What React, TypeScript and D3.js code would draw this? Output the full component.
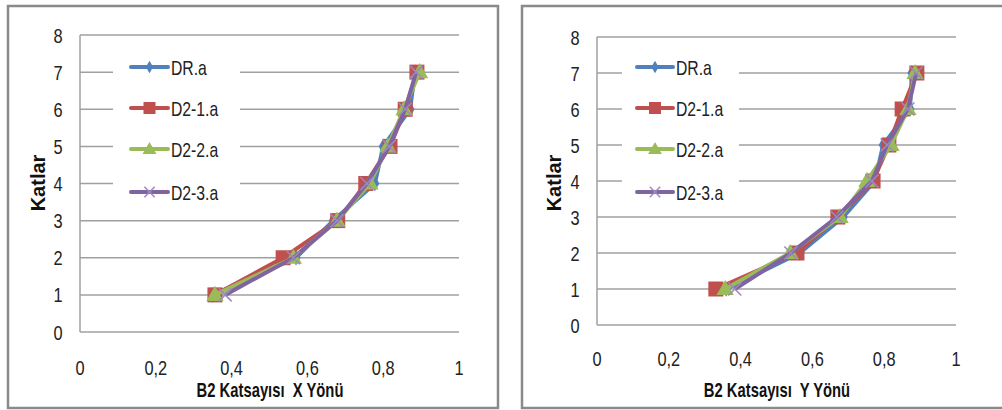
import React from "react";
import * as d3 from "d3";

const levels = [1, 2, 3, 4, 5, 6, 7];
const seriesNames = ["DR.a", "D2-1.a", "D2-2.a", "D2-3.a"];
const seriesColors = ["#4F81BD", "#C0504D", "#9BBB59", "#8064A2"];
const xTicks = [0, 0.2, 0.4, 0.6, 0.8, 1];
const yTicks = [0, 1, 2, 3, 4, 5, 6, 7, 8];

// X direction
const xDR = [0.35, 0.57, 0.668, 0.778, 0.8, 0.871, 0.884];
const xD21 = [0.356, 0.536, 0.68, 0.754, 0.818, 0.858, 0.889];
const xD22 = [0.356, 0.563, 0.678, 0.765, 0.812, 0.855, 0.896];
const xD23 = [0.383, 0.563, 0.678, 0.757, 0.816, 0.858, 0.887];

// Y direction
const yDR = [0.36, 0.565, 0.686, 0.774, 0.797, 0.872, 0.877];
const yD21 = [0.331, 0.557, 0.671, 0.769, 0.813, 0.85, 0.891];
const yD22 = [0.357, 0.538, 0.677, 0.752, 0.819, 0.866, 0.886];
const yD23 = [0.384, 0.54, 0.668, 0.766, 0.808, 0.866, 0.889];

const FONT = "'Liberation Sans', Arial, sans-serif";

function NText({
  x,
  y,
  size,
  sx,
  anchor,
  bold,
  children,
}: {
  x: number;
  y: number;
  size: number;
  sx: number;
  anchor?: string;
  bold?: boolean;
  children: React.ReactNode;
}) {
  return (
    <g transform={`translate(${x},${y}) scale(${sx},1)`}>
      <text
        x={0}
        y={0}
        dy="0.36em"
        textAnchor={anchor || "start"}
        fontFamily={FONT}
        fontWeight={bold ? "bold" : "normal"}
        fontSize={size}
        fill={bold ? "#111" : "#222"}
        style={{ whiteSpace: "pre" }}
      >
        {children}
      </text>
    </g>
  );
}

type PanelProps = {
  box: [number, number, number, number];
  plot: { l: number; r: number; t: number; b: number };
  data: number[][];
  xTitle: string;
  xTitleX: number;
  yTitleX: number;
  xLabelY: number;
  yLabelX: number;
  legend: { lx1: number; lx2: number; tx: number; box: [number, number, number, number] };
};

function Marker({ i, x, y, k }: { i: number; x: number; y: number; k: number }) {
  const c = seriesColors[i];
  if (i === 0) {
    const p = d3.symbol().type(d3.symbolDiamond).size(70 * k * k)();
    return <path d={p || ""} transform={`translate(${x},${y})`} fill={c} />;
  }
  if (i === 1) {
    const h = 7.5 * k;
    return <rect x={x - h} y={y - h} width={2 * h} height={2 * h} fill={c} />;
  }
  if (i === 2) {
    const p = d3.symbol().type(d3.symbolTriangle).size(130 * k * k)();
    return <path d={p || ""} transform={`translate(${x},${y + 1})`} fill={c} />;
  }
  const s = 6.5 * k;
  return (
    <g stroke="#9C89C0" strokeWidth={1.5}>
      <line x1={x - s} y1={y - s} x2={x + s} y2={y + s} />
      <line x1={x - s} y1={y + s} x2={x + s} y2={y - s} />
    </g>
  );
}

function Panel(props: PanelProps) {
  const { box, plot, data, xTitle, xTitleX, yTitleX, xLabelY, yLabelX, legend } = props;
  const xs = d3.scaleLinear().domain([0, 1]).range([plot.l, plot.r]);
  const ys = d3.scaleLinear().domain([0, 8]).range([plot.b, plot.t]);
  const line = d3
    .line<[number, number]>()
    .x((d) => xs(d[0]))
    .y((d) => ys(d[1]));
  const legendYs = [67, 108, 149, 192];
  return (
    <g>
      <rect x={box[0]} y={box[1]} width={box[2]} height={box[3]} fill="#fff" stroke="#8a8a8a" strokeWidth={2.5} />
      {yTicks.map((t) => (
        <line key={t} x1={plot.l} x2={plot.r} y1={ys(t)} y2={ys(t)} stroke="#a0a0a0" strokeWidth={1.5} />
      ))}
      <line x1={plot.l} x2={plot.l} y1={plot.t} y2={plot.b} stroke="#a0a0a0" strokeWidth={1.5} />
      {yTicks.map((t) => (
        <NText key={t} x={yLabelX} y={ys(t)} size={21} sx={0.78} anchor="middle">
          {t}
        </NText>
      ))}
      {xTicks.map((t) => (
        <NText key={t} x={xs(t)} y={xLabelY} size={21} sx={0.78} anchor="middle">
          {String(t).replace(".", ",")}
        </NText>
      ))}
      <NText x={xTitleX} y={390} size={20} sx={0.74} anchor="middle" bold>
        {xTitle}
      </NText>
      <text
        transform={`translate(${yTitleX},183) rotate(-90)`}
        dy="0.36em"
        textAnchor="middle"
        fontFamily={FONT}
        fontWeight="bold"
        fontSize={20}
        fill="#111"
      >
        Katlar
      </text>
      <rect x={legend.box[0]} y={legend.box[1]} width={legend.box[2]} height={legend.box[3]} fill="#fff" />
      {seriesNames.map((n, i) => (
        <g key={n}>
          <line
            x1={legend.lx1}
            x2={legend.lx2}
            y1={legendYs[i]}
            y2={legendYs[i]}
            stroke={seriesColors[i]}
            strokeWidth={4}
            strokeLinecap="round"
          />
          <Marker i={i} k={0.8} x={(legend.lx1 + legend.lx2) / 2} y={legendYs[i]} />
          <NText x={legend.tx} y={legendYs[i]} size={21} sx={0.75}>
            {n}
          </NText>
        </g>
      ))}
      {data.map((vals, i) => {
        const pts = vals.map((v, k) => [v, levels[k]] as [number, number]);
        return (
          <g key={i}>
            <path d={line(pts) || ""} fill="none" stroke={seriesColors[i]} strokeWidth={4} strokeLinejoin="round" />
            {pts.map((p, k) => (
              <Marker key={k} i={i} k={1} x={xs(p[0])} y={ys(p[1])} />
            ))}
          </g>
        );
      })}
    </g>
  );
}

export default function App() {
  return (
    <svg width={1002} height={410} style={{ position: "absolute", left: 0, top: 0 }}>
      <rect width={1002} height={410} fill="#fff" />
      <Panel
        box={[8, 6, 490, 402]}
        plot={{ l: 80, r: 459, t: 35, b: 332 }}
        data={[xDR, xD21, xD22, xD23]}
        xTitle="B2 Katsayısı  X Yönü"
        xTitleX={270}
        yTitleX={38}
        xLabelY={367}
        yLabelX={58}
        legend={{ lx1: 131, lx2: 168, tx: 171, box: [113, 45, 127, 168] }}
      />
      <Panel
        box={[522, 6, 490, 402]}
        plot={{ l: 597, r: 956, t: 37, b: 325 }}
        data={[yDR, yD21, yD22, yD23]}
        xTitle="B2 Katsayısı  Y Yönü"
        xTitleX={777}
        yTitleX={554}
        xLabelY={358}
        yLabelX={575}
        legend={{ lx1: 637, lx2: 673, tx: 676, box: [622, 45, 117, 168] }}
      />
    </svg>
  );
}
